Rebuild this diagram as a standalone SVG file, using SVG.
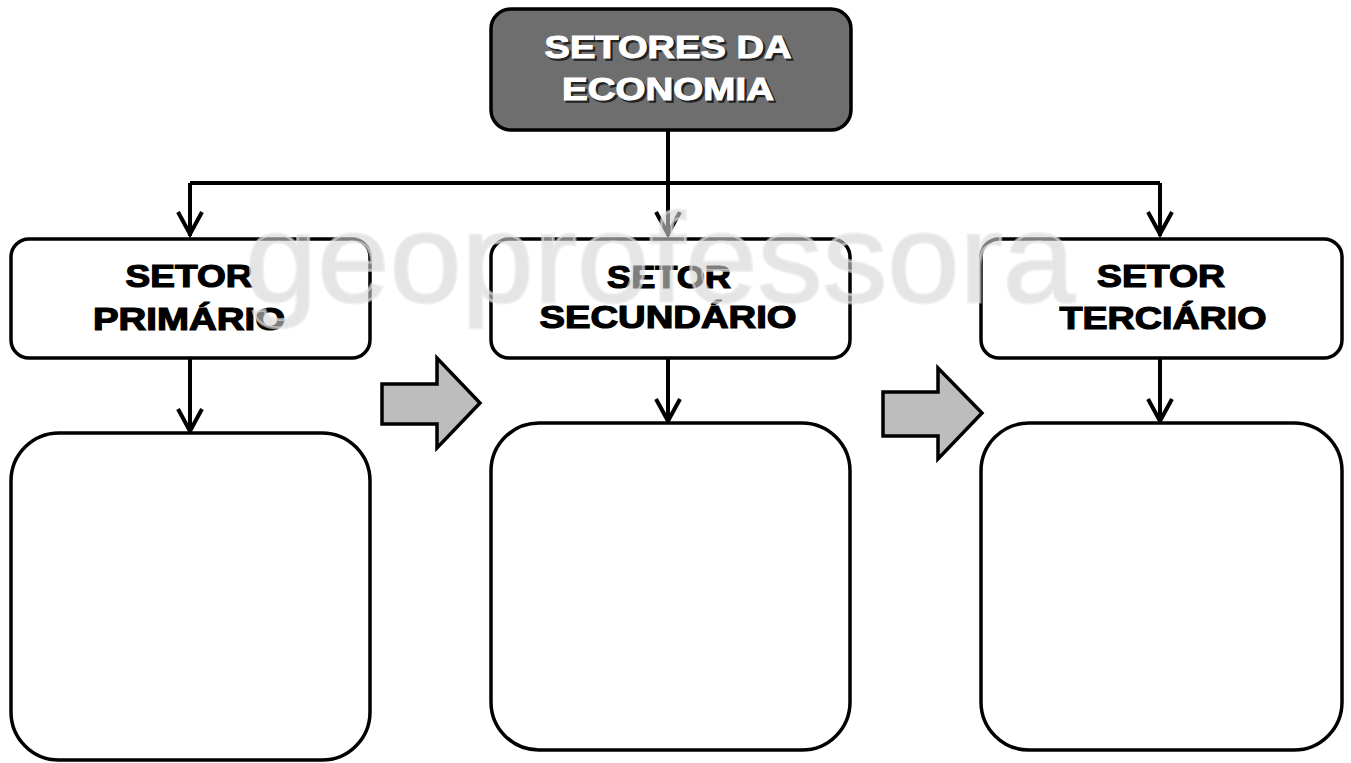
<svg xmlns="http://www.w3.org/2000/svg" width="1351" height="763" viewBox="0 0 1351 763">
<style>
.box{fill:#fff;stroke:#000;stroke-width:3.5}
.top{fill:#6e6e6e;stroke:#000;stroke-width:3.5}
.lbl{font-family:"Liberation Sans",Arial,sans-serif;font-weight:bold;font-size:31px;text-anchor:middle;fill:#000;stroke:#000;stroke-width:1.2}
.tlbl{font-family:"Liberation Sans",Arial,sans-serif;font-weight:bold;font-size:31px;text-anchor:middle;fill:#fff;stroke:#fff;stroke-width:1}
.shd{fill:#222;stroke:#222;stroke-width:1.5}
.con{fill:none;stroke:#000;stroke-width:4}
.head{fill:none;stroke:#000;stroke-width:4;stroke-linejoin:miter}
.block{fill:#bdbdbd;stroke:#000;stroke-width:3.5;stroke-linejoin:miter}
.wm{font-family:"Liberation Sans",Arial,sans-serif;font-size:126px;fill:#d4d4d4;fill-opacity:0.6;stroke:#e6e6e6;stroke-opacity:0.6;stroke-width:3}
</style>
<g id="connectors">
<path class="con" d="M668 130 V236"/>
<path class="con" d="M190 183 H1160"/>
<path class="con" d="M190 183 V236"/>
<path class="con" d="M1160 183 V236"/>
<path class="head" d="M178 212 L190 234 L202 212"/>
<path class="head" d="M656 212 L668 234 L680 212"/>
<path class="head" d="M1148 212 L1160 234 L1172 212"/>
<path class="con" d="M190 358 V431"/>
<path class="con" d="M668 358 V421"/>
<path class="con" d="M1160 358 V421"/>
<path class="head" d="M178 409 L190 431 L202 409"/>
<path class="head" d="M656 399 L668 421 L680 399"/>
<path class="head" d="M1148 399 L1160 421 L1172 399"/>
<path class="block" d="M382 384 H437 V358 L480 403 L437 448 V424 H382 Z"/>
<path class="block" d="M883 392 H938 V368 L982 413 L938 459 V436 H883 Z"/>
</g>
<g id="n-economia">
<rect class="top" x="491" y="9" width="360" height="121" rx="20"/>
<text class="tlbl shd" x="670" y="60" textLength="247" lengthAdjust="spacingAndGlyphs">SETORES DA</text>
<text class="tlbl shd" x="670" y="102" textLength="212" lengthAdjust="spacingAndGlyphs">ECONOMIA</text>
<text class="tlbl" x="668" y="58" textLength="247" lengthAdjust="spacingAndGlyphs">SETORES DA</text>
<text class="tlbl" x="668" y="100" textLength="212" lengthAdjust="spacingAndGlyphs">ECONOMIA</text>
</g>
<g id="n-primario">
<rect class="box" x="11" y="239" width="359" height="119" rx="18"/>
<text class="lbl" x="189" y="287" textLength="127" lengthAdjust="spacingAndGlyphs">SETOR</text>
<text class="lbl" x="189" y="330" textLength="192" lengthAdjust="spacingAndGlyphs">PRIMÁRIO</text>
</g>
<g id="n-secundario">
<rect class="box" x="491" y="239" width="359" height="119" rx="18"/>
<text class="lbl" x="669" y="288" textLength="124" lengthAdjust="spacingAndGlyphs">SETOR</text>
<text class="lbl" x="668" y="328" textLength="257" lengthAdjust="spacingAndGlyphs">SECUNDÁRIO</text>
</g>
<g id="n-terciario">
<rect class="box" x="981" y="239" width="361" height="119" rx="18"/>
<text class="lbl" x="1161" y="287" textLength="128" lengthAdjust="spacingAndGlyphs">SETOR</text>
<text class="lbl" x="1163" y="329" textLength="207" lengthAdjust="spacingAndGlyphs">TERCIÁRIO</text>
</g>
<g id="n-primario-box">
<rect class="box" x="11" y="433" width="359" height="327" rx="48"/>
</g>
<g id="n-secundario-box">
<rect class="box" x="491" y="423" width="359" height="327" rx="48"/>
</g>
<g id="n-terciario-box">
<rect class="box" x="981" y="423" width="361" height="327" rx="48"/>
</g>
<text class="wm" x="245" y="302" textLength="830" lengthAdjust="spacingAndGlyphs">geoprofessora</text>
</svg>
